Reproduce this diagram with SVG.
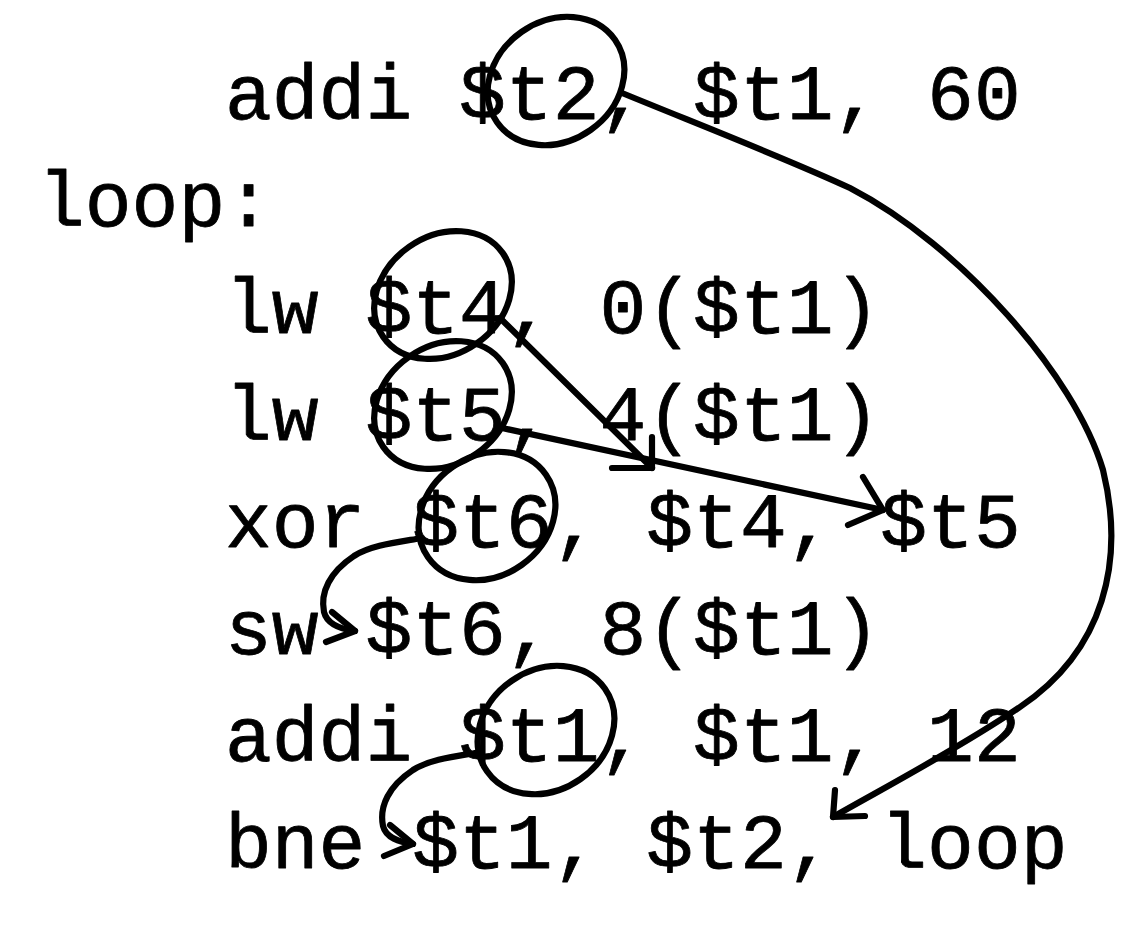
<svg xmlns="http://www.w3.org/2000/svg" width="1132" height="926" viewBox="0 0 1132 926">
<style>
.code{font-family:"Liberation Mono","DejaVu Sans Mono",monospace;font-size:78px;fill:#000;stroke:#000;stroke-width:0.8;stroke-linejoin:round;}
.mark{fill:none;stroke:#000;stroke-width:6.2;stroke-linecap:round;stroke-linejoin:round;}
</style>
<rect width="1132" height="926" fill="#fff"/>
<g id="code" class="code">
<text x="225" y="119">addi $t2, $t1, 60</text>
<text x="38" y="226">loop:</text>
<text x="225" y="333">lw $t4, 0($t1)</text>
<text x="225" y="440">lw $t5, 4($t1)</text>
<text x="225" y="547">xor $t6, $t4, $t5</text>
<text x="225" y="654">sw $t6, 8($t1)</text>
<text x="225" y="761">addi $t1, $t1, 12</text>
<text x="225" y="868">bne $t1, $t2, loop</text>
</g>
<g id="circle-t2"><ellipse class="mark" cx="556" cy="81" rx="72" ry="60" transform="rotate(-35 556 81)"/></g>
<g id="circle-t4"><ellipse class="mark" cx="443" cy="295" rx="73" ry="59" transform="rotate(-35 443 295)"/></g>
<g id="circle-t5"><ellipse class="mark" cx="443" cy="405" rx="73" ry="59" transform="rotate(-35 443 405)"/></g>
<g id="circle-t6"><ellipse class="mark" cx="487" cy="516" rx="72" ry="60" transform="rotate(-35 487 516)"/></g>
<g id="circle-t1"><ellipse class="mark" cx="546" cy="730" rx="72" ry="60" transform="rotate(-35 546 730)"/></g>
<g id="connectors" class="mark">
<path d="M622 93 C700 125 790 160 850 188 C960 245 1075 375 1103 470 C1125 560 1105 650 1020 707 C960 748 880 790 833 817"/>
<path d="M835 790 L833 817 L865 816"/>
<path d="M500 318 L652 468"/>
<path d="M652 437 L652 468 L612 468"/>
<path d="M502 428 L883 510"/>
<path d="M863 477 L883 510 L848 525"/>
<path d="M416 539 C392 543 370 546 354 556 C330 572 320 592 324 612 C327 624 340 629 355 631"/>
<path d="M332 612 L355 631 L326 642"/>
<path d="M475 753 C451 757 429 760 413 770 C389 786 379 806 383 826 C386 838 399 842 413 844"/>
<path d="M390 825 L413 844 L384 856"/>
</g>
</svg>
